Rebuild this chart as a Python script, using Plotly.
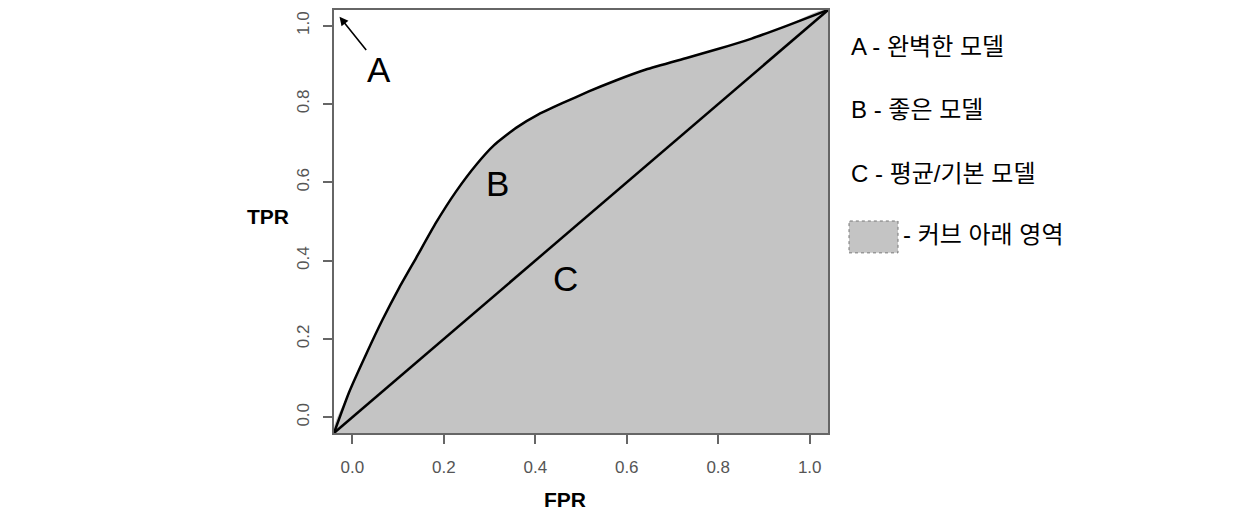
import plotly.graph_objects as go

# ROC curve of the "good model" (B)
fpr_b = [-0.04, -0.007, 0.031, 0.066, 0.103, 0.140, 0.183, 0.227, 0.271, 0.310,
         0.358, 0.408, 0.459, 0.517, 0.576, 0.642, 0.729, 0.801, 0.873, 0.948, 1.04]
tpr_b = [-0.04, 0.064, 0.163, 0.249, 0.332, 0.408, 0.497, 0.577, 0.645, 0.695,
         0.739, 0.774, 0.802, 0.832, 0.860, 0.888, 0.917, 0.941, 0.967, 0.999, 1.04]

# baseline model (C)
fpr_c = [-0.04, 1.04]
tpr_c = [-0.04, 1.04]

tick_vals = [0.0, 0.2, 0.4, 0.6, 0.8, 1.0]
tick_text = ["0.0", "0.2", "0.4", "0.6", "0.8", "1.0"]

legend_lines = ["A - 완벽한 모델", "B - 좋은 모델", "C - 평균/기본 모델"]
area_label = "- 커브 아래 영역"

FONT = "Liberation Sans, Arial, Noto Sans CJK KR, sans-serif"
GRAY_FILL = "#c4c4c4"

fig = go.Figure()

# shaded area under curve B
fig.add_trace(go.Scatter(
    x=fpr_b + [fpr_b[-1], fpr_b[0]],
    y=tpr_b + [tpr_b[0], tpr_b[0]],
    mode="lines", fill="toself", fillcolor=GRAY_FILL,
    line=dict(width=0, shape="spline", smoothing=0.5),
    hoverinfo="skip", showlegend=False))

# curve B
fig.add_trace(go.Scatter(
    x=fpr_b, y=tpr_b, mode="lines",
    line=dict(color="black", width=2.5, shape="spline", smoothing=0.5),
    showlegend=False))

# diagonal C
fig.add_trace(go.Scatter(
    x=fpr_c, y=tpr_c, mode="lines",
    line=dict(color="black", width=2.5), showlegend=False))

axis_common = dict(
    range=[-0.04, 1.04], showgrid=False, zeroline=False,
    showline=True, mirror=True, linecolor="#666666", linewidth=1.5,
    ticks="outside", ticklen=9, tickwidth=1.5, tickcolor="#666666",
    tickvals=tick_vals, ticktext=tick_text,
    tickfont=dict(family=FONT, size=17, color="#555555"),
    fixedrange=True,
)

fig.update_layout(
    width=1248, height=523,
    margin=dict(l=334, r=420, t=8, b=90),
    paper_bgcolor="white", plot_bgcolor="white",
    xaxis=dict(**axis_common, ticklabelstandoff=9),
    yaxis=dict(**axis_common, tickangle=-90, ticklabelstandoff=7),
    font=dict(family=FONT),
)

# point labels A, B, C
for lbl, lx, ly in [("A", 0.059, 0.888), ("B", 0.317, 0.596), ("C", 0.467, 0.355)]:
    fig.add_annotation(x=lx, y=ly, text=lbl, showarrow=False,
                       xanchor="center", yanchor="middle",
                       font=dict(family=FONT, size=35, color="black"))
# arrow towards perfect model corner
fig.add_annotation(x=-0.028, y=1.023, ax=0.033, ay=0.934,
                   xref="x", yref="y", axref="x", ayref="y",
                   text="", showarrow=True, arrowhead=2, arrowsize=1.1,
                   arrowwidth=1.6, arrowcolor="black")

def px_x(p):
    return (p - 334) / 494

def px_y(p):
    return (433 - p) / 425

# axis titles
fig.add_annotation(x=px_x(268), y=px_y(215), xref="paper", yref="paper",
                   xanchor="center", yanchor="middle",
                   text="<b>TPR</b>", showarrow=False,
                   font=dict(family=FONT, size=21, color="black"))
fig.add_annotation(x=px_x(565), y=px_y(500), xref="paper", yref="paper",
                   xanchor="center", yanchor="middle",
                   text="<b>FPR</b>", showarrow=False,
                   font=dict(family=FONT, size=21, color="black"))

# legend text
legend_y_px = [45, 108, 172]
for txt, ypx in zip(legend_lines, legend_y_px):
    fig.add_annotation(x=px_x(849), y=px_y(ypx),
                       xref="paper", yref="paper", xanchor="left", yanchor="middle",
                       text=txt, showarrow=False,
                       font=dict(family=FONT, size=24, color="black"))

fig.add_shape(type="rect", xref="paper", yref="paper",
              x0=px_x(849), x1=px_x(898), y0=px_y(252), y1=px_y(220),
              fillcolor=GRAY_FILL, line=dict(color="#777777", width=1, dash="dot"))
fig.add_annotation(x=px_x(901), y=px_y(234),
                   xref="paper", yref="paper", xanchor="left", yanchor="middle",
                   text=area_label, showarrow=False,
                   font=dict(family=FONT, size=24, color="black"))

fig.write_html("out.html", config={"displayModeBar": False},
               post_script="document.body.style.margin='0';")
